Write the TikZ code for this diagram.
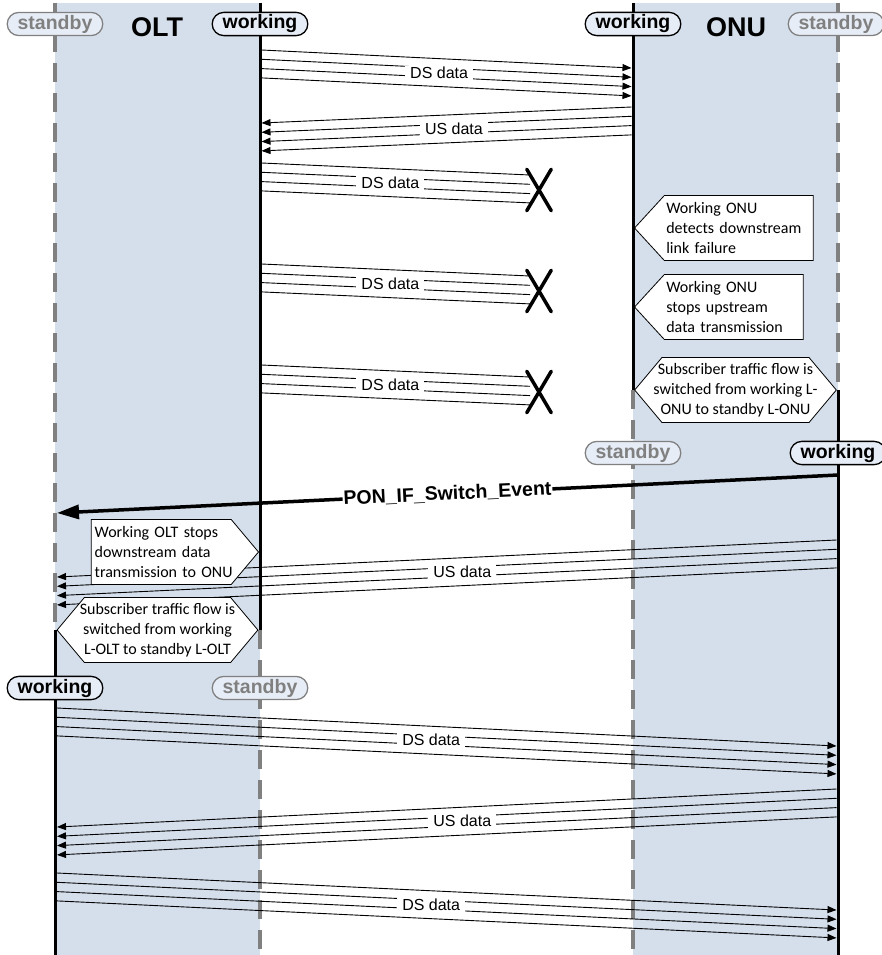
\documentclass[tikz,border=0pt]{standalone}
\usepackage{fontspec}
\setmainfont{Liberation Sans}
\newfontfamily\calloutfont{Carlito}
\usetikzlibrary{arrows.meta,calc,shapes.misc,shapes.symbols}

\definecolor{laneblue}{RGB}{213,223,235}
\definecolor{pillfill}{RGB}{231,237,246}
\definecolor{sbgray}{RGB}{128,128,128}

\tikzset{
  workline/.style={line width=3pt},
  sbline/.style={line width=4.2pt, sbgray, dash pattern=on 19pt off 11pt},
  dataline/.style={line width=0.9pt, -{Triangle[length=9pt,width=7pt]}},
  cutline/.style={line width=0.9pt},
  datalabel/.style={fill=white, inner xsep=5pt, inner ysep=1pt, font=\fontsize{16}{19}\selectfont},
  pill/.style={rounded rectangle, fill=pillfill, line width=1.3pt, minimum height=23pt,
    inner xsep=6pt, inner ysep=2.5pt, font=\bfseries\fontsize{19.5}{21}\selectfont},
  wkpill/.style={pill, draw=black},
  sbpill/.style={pill, draw=sbgray, text=sbgray},
  headlabel/.style={font=\bfseries\fontsize{27}{30}\selectfont},
  callout/.style={draw, fill=white, line width=0.8pt, shape=signal, minimum height=65pt,
    font=\calloutfont\fontsize{16}{20}\selectfont},
  lcallout/.style={callout, signal to=west, signal pointer angle=95, align=left, inner xsep=2pt, anchor=west},
  rcallout/.style={callout, signal to=east, signal pointer angle=100, align=left, inner xsep=3.5pt, anchor=east},
  hexcallout/.style={callout, signal to=east and west, signal pointer angle=100, align=center},
  xcut/.style={cross out, draw, line width=3.5pt, line cap=round, minimum width=21pt,
    minimum height=38pt, inner sep=0pt},
  ponarrow/.style={line width=3.5pt, -{Triangle[length=22pt,width=14pt]}},
  ponlabel/.style={fill=white, inner sep=1pt, font=\bfseries\fontsize{19.5}{21}\selectfont}
}

% four parallel data lines with a label in the middle
\newcommand{\databundle}[7][dataline]{%
  \coordinate (#2s) at (#3,#4);
  \coordinate (#2e) at (#5,#6);
  \foreach \k in {0,...,3}
    \draw[#1] ($(#2s)+(0,9.3*\k)$) -- ($(#2e)+(0,9.3*\k)$);
  \node[datalabel] (#2l) at ($(#2s)!0.48!(#2e)+(0,14)$) {#7};
}

\begin{document}
\begin{tikzpicture}[x=1pt, y=-1pt]
\useasboundingbox (0,0) rectangle (881,955);

% lanes
\fill[laneblue] (55,3) rectangle (260,955);
\fill[laneblue] (633,3) rectangle (838,955);

% lifelines
\coordinate (oltsbtop) at (55,3);
\coordinate (oltsbsw) at (55,630);
\coordinate (oltsbbot) at (55,955);
\coordinate (oltwktop) at (260,3);
\coordinate (oltwksw) at (260,630);
\coordinate (oltwkbot) at (260,955);
\coordinate (onuwktop) at (633,3);
\coordinate (onuwksw) at (633,390);
\coordinate (onuwkbot) at (633,955);
\coordinate (onusbtop) at (838,3);
\coordinate (onusbsw) at (838,390);
\coordinate (onusbbot) at (838,955);

\draw[sbline] (oltsbtop) -- (oltsbsw);
\draw[workline] (oltsbsw) -- (oltsbbot);
\draw[workline] (oltwktop) -- (oltwksw);
\draw[sbline] (oltwksw) -- (oltwkbot);
\draw[workline] (onuwktop) -- (onuwksw);
\draw[sbline] (onuwksw) -- (onuwkbot);
\draw[sbline] (onusbtop) -- (onusbsw);
\draw[workline] (onusbsw) -- (onusbbot);

% data flows
\databundle{dsa}{261.5}{50}{631.5}{68}{DS data}
\databundle{usa}{631.5}{107}{261.5}{123}{US data}
\databundle[cutline]{dsb}{261.5}{163}{530}{175}{DS data}
\databundle[cutline]{dsc}{261.5}{264}{530}{276}{DS data}
\databundle[cutline]{dsd}{261.5}{365}{530}{377}{DS data}
\databundle{usb}{836.5}{540}{57}{577}{US data}
\databundle{dse}{57}{708}{836.5}{746}{DS data}
\databundle{usc}{836.5}{789}{57}{827}{US data}
\databundle{dsf}{57}{873}{836.5}{910}{DS data}

% lost downstream data
\node[xcut] (xcuta) at (539,190) {};
\node[xcut] (xcutb) at (539,291) {};
\node[xcut] (xcutc) at (539,392) {};

% switch event
\coordinate (ponstart) at (838,475);
\coordinate (ponend) at (57,513);
\draw[ponarrow] (ponstart) -- node[sloped, ponlabel] (ponevent) {PON\_IF\_Switch\_Event} (ponend);

% callouts
\node[lcallout, text width=145pt] (onudetect) at (634,228) {Working ONU\\detects downstream\\link failure};
\node[lcallout, text width=135pt] (onustop) at (634,307) {Working ONU\\stops upstream\\data transmission};
\node[hexcallout, inner xsep=-8.5pt] (onuswitch) at ($(onuwksw)!0.5!(onusbsw)$)
  {Subscriber traffic flow is\\switched from working L-\\ONU to standby L-ONU};
\node[rcallout, text width=133pt] (oltstop) at (259,552)
  {\mbox{Working OLT stops}\\\mbox{downstream data}\\\mbox{transmission to ONU}};
\node[hexcallout, inner xsep=-4.5pt] (oltswitch) at ($(oltsbsw)!0.5!(oltwksw)$)
  {Subscriber traffic flow is\\switched from working\\L-OLT to standby L-OLT};

% headers and states
\node[headlabel] (olt) at (157,27) {OLT};
\node[headlabel] (onu) at (736,27) {ONU};
\node[sbpill] (oltsbstate) at (55,24) {standby};
\node[wkpill] (oltwkstate) at (260,24) {working};
\node[wkpill] (onuwkstate) at (633,24) {working};
\node[sbpill] (onusbstate) at (836,24) {standby};
\node[sbpill] (onusbnew) at (633,453) {standby};
\node[wkpill] (onuwknew) at (838,453) {working};
\node[wkpill] (oltwknew) at (55,688) {working};
\node[sbpill] (oltsbnew) at (260,688) {standby};
\end{tikzpicture}
\end{document}
